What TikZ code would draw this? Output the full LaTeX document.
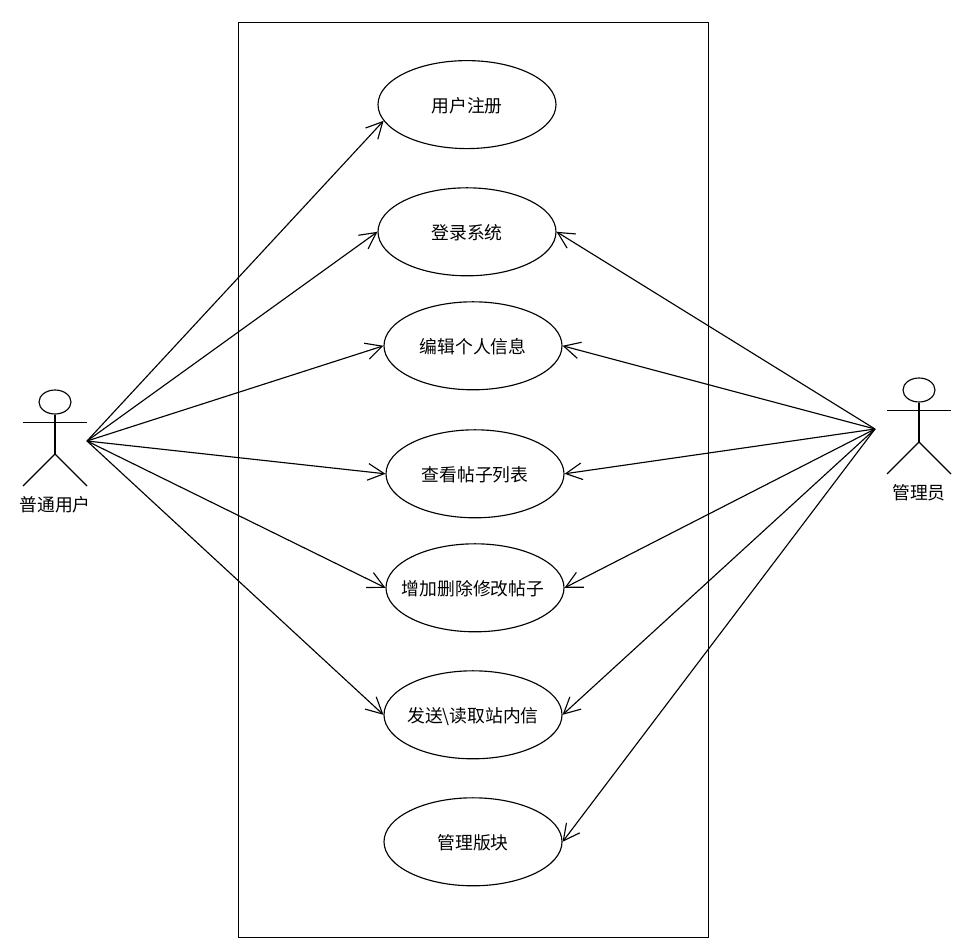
\documentclass[tikz,border=0pt]{standalone}
\usepackage{fontspec}
\setmainfont{Noto Sans CJK SC}
\usetikzlibrary{shapes.geometric,arrows.meta}
\newcommand{\casetext}[1]{\raisebox{-5.6pt}[0pt][0pt]{\makebox[0pt]{#1}}}
\tikzset{
  usecase/.style={draw,ellipse,minimum width=133.5pt,minimum height=66pt,inner sep=0pt,font=\fontsize{13.35pt}{15pt}\selectfont},
  head/.style={draw,ellipse,minimum width=24pt,minimum height=18pt,inner sep=0pt},
  actorlabel/.style={font=\fontsize{13.35pt}{15pt}\selectfont,inner sep=0pt},
  link/.style={-{Straight Barb[length=12.2pt,width=12.5pt]}},
}
\begin{document}
\begin{tikzpicture}[x=0.75pt,y=-0.75pt,line width=0.85pt]
\useasboundingbox (0,0) rectangle (964,943);
\node[draw,minimum width=352.5pt,minimum height=686pt,inner sep=0pt,anchor=north west] (sys) at (238,22) {};
\node[usecase] (u1) at (467,104.6) {\casetext{用户注册}};
\node[usecase] (u2) at (467,231.8) {\casetext{登录系统}};
\node[usecase] (u3) at (473,345.8) {\casetext{编辑个人信息}};
\node[usecase] (u4) at (475,473.8) {\casetext{查看帖子列表}};
\node[usecase] (u5) at (475,587.8) {\casetext{\hspace*{-3pt}增加删除修改帖子}};
\node[usecase] (u6) at (473,714.8) {\casetext{发送\textbackslash 读取站内信}};
\node[usecase] (u7) at (473,841.8) {\casetext{管理版块}};
% left actor
\node[head] (h1) at (55,402) {};
\coordinate (la1) at (23,422.4);
\coordinate (ra1) at (87,422.4);
\coordinate (b1) at (55,454);
\coordinate (lf1) at (23,486);
\coordinate (rf1) at (87,486);
\coordinate (p1) at (87,441);
\draw (h1.south) -- (b1);
\draw (la1) -- (ra1);
\draw (lf1) -- (b1) -- (rf1);
\node[actorlabel] (t1) at (55,504.5) {普通用户};
% right actor
\node[head] (h2) at (919,390) {};
\coordinate (la2) at (887,410.4);
\coordinate (ra2) at (951,410.4);
\coordinate (b2) at (919,442);
\coordinate (lf2) at (887,474);
\coordinate (rf2) at (951,474);
\coordinate (p2) at (875,429);
\draw (h2.south) -- (b2);
\draw (la2) -- (ra2);
\draw (lf2) -- (b2) -- (rf2);
\node[actorlabel] (t2) at (919,492.5) {管理员};
% connectors
\draw[link] (p1) -- (u1.191);
\draw[link] (p1) -- (u2.west);
\draw[link] (p1) -- (u3.west);
\draw[link] (p1) -- (u4.west);
\draw[link] (p1) -- (u5.west);
\draw[link] (p1) -- (u6.west);
\draw[link] (p2) -- (u2.east);
\draw[link] (p2) -- (u3.east);
\draw[link] (p2) -- (u4.east);
\draw[link] (p2) -- (u5.east);
\draw[link] (p2) -- (u6.east);
\draw[link] (p2) -- (u7.east);
\end{tikzpicture}
\end{document}
